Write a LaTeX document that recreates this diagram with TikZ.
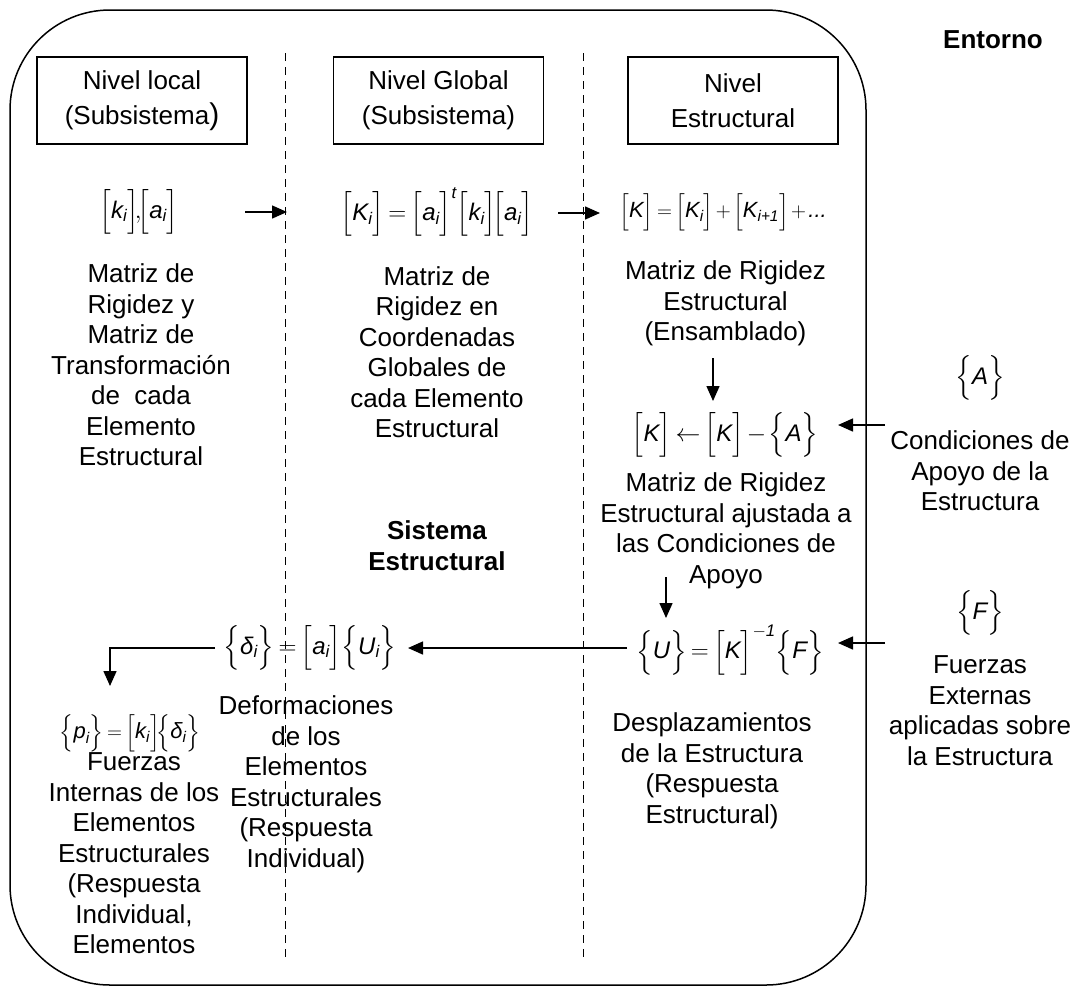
\documentclass[tikz,border=0pt]{standalone}
\usepackage{amsmath}
\usepackage{fontspec}
\setmainfont{Liberation Sans}
\usetikzlibrary{arrows.meta}
\newcommand\vv[1]{\textit{#1}}
\newcommand\sqb[1]{\Bigl[#1\Bigr]}
\newcommand\crl[1]{\Bigl\{#1\Bigr\}}
\newcommand\tightmath{\medmuskip=2mu\relax\thickmuskip=3mu\relax}
\begin{document}
\begin{tikzpicture}[x=1pt,y=-1pt,
  txt/.style={inner sep=0pt,align=center,anchor=north,font=\fontsize{26}{30.5}\selectfont},
  btxt/.style={txt,font=\fontsize{26}{31}\selectfont\bfseries},
  fml/.style={inner sep=0pt,font=\fontsize{24}{28}\selectfont\tightmath},
  lvlbox/.style={draw,line width=1.2pt,minimum width=210pt,minimum height=87pt,inner sep=0pt,align=center,font=\fontsize{26}{35}\selectfont},
  arr/.style={line width=1.5pt,-{Triangle[length=15pt,width=13pt]}},
  sep/.style={line width=1pt,dash pattern=on 8pt off 6pt}]
\useasboundingbox (0,0) rectangle (1078,994);
% environment boundary
\draw[line width=1.5pt,rounded corners=100pt] (10,10) rectangle (866,985);
\node[btxt,anchor=center] (ent) at (993,40) {Entorno};
% separators
\coordinate (s1t) at (285,53); \coordinate (s1b) at (285,958);
\coordinate (s2t) at (583,53); \coordinate (s2b) at (583,958);
\draw[sep] (s1t) -- (s1b);
\draw[sep] (s2t) -- (s2b);
% level boxes
\node[lvlbox] (b1) at (142,100.5) {Nivel local\\(Subsistema{\fontsize{30}{30}\selectfont)}};
\node[lvlbox] (b2) at (438.5,100.5) {Nivel Global\\(Subsistema)};
\node[lvlbox] (b3) at (733,100.5) {Nivel\\Estructural};
% formulas
\node[fml] (f1) at (139,212) {$\sqb{\vv{k}_{\vv{i}}}\!\mathord{,}\!\sqb{\vv{a}_{\vv{i}}}$};
\node[fml] (f2) at (437,212) {$\sqb{\vv{K}_{\vv{i}}}=\sqb{\vv{a}_{\vv{i}}}^{\vv{t}}\sqb{\vv{k}_{\vv{i}}}\!\sqb{\vv{a}_{\vv{i}}}$};
\node[fml,font=\fontsize{22}{26}\selectfont\tightmath] (f3) at (723,212) {$\sqb{\vv{K}}=\sqb{\vv{K}_{\vv{i}}}+\sqb{\vv{K}_{\vv{i+1}}}+\vv{...}$};
\node[fml] (f4) at (725,435) {$\sqb{\vv{K}}\leftarrow\sqb{\vv{K}}-\crl{\vv{A}}$};
\node[fml] (f5) at (730,650) {$\crl{\vv{U}}=\sqb{\vv{K}}^{-\vv{1}}\crl{\vv{F}}$};
\node[fml] (f6) at (310,648) {$\crl{\vv{δ}_{\vv{i}}}=\sqb{\vv{a}_{\vv{i}}}\crl{\vv{U}_{\vv{i}}}$};
\node[fml,font=\fontsize{22}{26}\selectfont\tightmath] (f7) at (130,733) {$\crl{\vv{p}_{\vv{i}}}=\sqb{\vv{k}_{\vv{i}}}\!\crl{\vv{δ}_{\vv{i}}}$};
\node[fml] (fA) at (980,378) {$\crl{\vv{A}}$};
\node[fml] (fF) at (980,613) {$\crl{\vv{F}}$};
% descriptive texts
\node[txt] (t1) at (141,263.5) {Matriz de\\Rigidez y\\Matriz de\\Transformación\\de\ \ cada\\Elemento\\Estructural};
\node[txt] (t2) at (437,266) {Matriz de\\Rigidez en\\Coordenadas\\Globales de\\cada Elemento\\Estructural};
\node[txt] (t3) at (725.5,260.5) {Matriz de Rigidez\\Estructural\\(Ensamblado)};
\node[txt] (t4) at (726,472.5) {Matriz de Rigidez\\Estructural ajustada a\\las Condiciones de\\Apoyo};
\node[txt] (tA) at (980,430.5) {Condiciones de\\Apoyo de la\\Estructura};
\node[btxt] (sis) at (437,520.5) {Sistema\\Estructural};
\node[txt] (t5) at (712,712.5) {Desplazamientos\\de la Estructura\\(Respuesta\\Estructural)};
\node[txt] (t6) at (306,695.5) {Deformaciones\\de los\\Elementos\\Estructurales\\(Respuesta\\Individual)};
\node[txt] (t7) at (134,752.5) {Fuerzas\\Internas de los\\Elementos\\Estructurales\\(Respuesta\\Individual,\\Elementos};
\node[txt] (tF) at (980,655.5) {Fuerzas\\Externas\\aplicadas sobre\\la Estructura};
% connectors
\coordinate (a1s) at (245,212); \coordinate (a1e) at (287,212);
\draw[arr] (a1s) -- (a1e);
\coordinate (a2s) at (558,213); \coordinate (a2e) at (600,213);
\draw[arr] (a2s) -- (a2e);
\coordinate (a3s) at (713,358); \coordinate (a3e) at (713,401);
\draw[arr] (a3s) -- (a3e);
\coordinate (aAs) at (885,425); \coordinate (aAe) at (838,425);
\draw[arr] (aAs) -- (aAe);
\coordinate (a5s) at (666,577); \coordinate (a5e) at (666,618);
\draw[arr] (a5s) -- (a5e);
\coordinate (aFs) at (885,643); \coordinate (aFe) at (838,643);
\draw[arr] (aFs) -- (aFe);
\coordinate (a7s) at (627,648); \coordinate (a7e) at (408,648);
\draw[arr] (a7s) -- (a7e);
\coordinate (a8s) at (215,648); \coordinate (a8c) at (110,648); \coordinate (a8e) at (110,686);
\draw[arr] (a8s) -- (a8c) -- (a8e);
\end{tikzpicture}
\end{document}
